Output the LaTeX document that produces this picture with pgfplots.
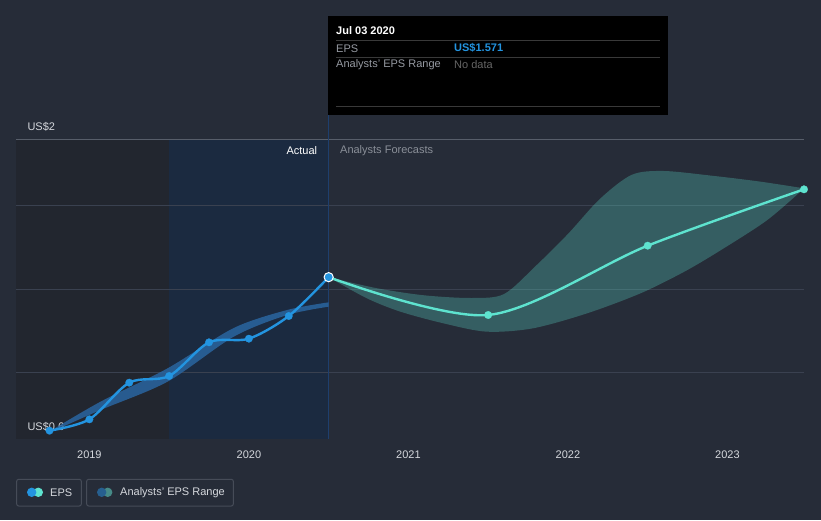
\documentclass[border=0pt]{standalone}
\usepackage{pgfplots}
\pgfplotsset{compat=1.18}
\usepgfplotslibrary{fillbetween}
\usepackage{fontspec}
\setmainfont{Liberation Sans}
\definecolor{bg}{HTML}{262C38}
\definecolor{darkreg}{HTML}{22262F}
\definecolor{bluereg}{HTML}{1B2A40}
\definecolor{gridc}{HTML}{3A4150}
\definecolor{axisc}{HTML}{4E5565}
\definecolor{epsblue}{HTML}{2394E0}
\definecolor{fteal}{HTML}{5EE3CF}
\definecolor{pastband}{HTML}{2A65A0}
\definecolor{txt}{HTML}{D5D8DD}
\definecolor{txtgray}{HTML}{8A8F98}
\definecolor{vline}{HTML}{1E3F6E}
\definecolor{legborder}{HTML}{464C58}
\definecolor{legteal}{HTML}{468A87}
\definecolor{legblue}{HTML}{265F8F}
\pgfplotsset{/tikz/fill between/on layer=main}
\begin{document}
\begin{tikzpicture}[x=1pt,y=1pt]
\fill[bg] (0,0) rectangle (821,520);
\begin{axis}[
  at={(16pt,81pt)}, anchor=south west, scale only axis,
  width=788pt, height=300pt,
  xmin=2018.54, xmax=2023.48, ymin=0.6, ymax=2.4,
  clip=false,
  axis x line*=bottom, axis y line*=left,
  y axis line style={draw=none},
  x axis line style={axisc, line width=1pt},
  xtick={2019,2020,2021,2022,2023},
  xticklabels={2019,2020,2021,2022,2023},
  ytick={1,1.5,2,2.4}, yticklabels={},
  ytick style={draw=none},
  xtick style={axisc, line width=0.8pt},
  tick align=outside, major tick length=5pt,
  xticklabel style={font=\fontsize{11}{13}\selectfont, text=txt, yshift=-3pt},
]
\fill[darkreg] (axis cs:2018.54,0.6) rectangle (axis cs:2019.5,2.4);
\fill[bluereg] (axis cs:2019.5,0.6) rectangle (axis cs:2020.5,2.4);
\draw[gridc, line width=0.9pt] (axis cs:2018.54,1) -- (axis cs:2023.48,1);
\draw[gridc, line width=0.9pt] (axis cs:2018.54,1.5) -- (axis cs:2023.48,1.5);
\draw[gridc, line width=0.9pt] (axis cs:2018.54,2) -- (axis cs:2023.48,2);
\draw[gridc!85!white, line width=0.9pt] (axis cs:2018.54,2.4) -- (axis cs:2023.48,2.4);
\draw[vline, line width=1pt] (axis cs:2020.5,0.6) -- (axis cs:2020.5,2.55);

\node[anchor=west, text=txt, font=\fontsize{11}{13}\selectfont] at (axis cs:2018.59,2.472) {US\$2};
\node[anchor=west, text=txt, font=\fontsize{11}{13}\selectfont] at (axis cs:2018.59,0.672) {US\$0.6};
\node[anchor=east, text=white, font=\fontsize{11}{13}\selectfont] at (axis cs:2020.45,2.328) {Actual};
\node[anchor=west, text=txtgray, font=\fontsize{11}{13}\selectfont] at (axis cs:2020.55,2.328) {Analysts Forecasts};

% past analyst range
\addplot[name path=pu, draw=none, smooth, forget plot] coordinates {
 (2018.755,0.648) (2019.07,0.824) (2019.49,1.024) (2019.905,1.266) (2020.24,1.374) (2020.5,1.42)};
\addplot[name path=pl, draw=none, smooth, forget plot] coordinates {
 (2018.755,0.640) (2019.07,0.774) (2019.49,0.944) (2019.905,1.214) (2020.24,1.344) (2020.5,1.394)};
\addplot[pastband, fill opacity=0.85, draw=none] fill between[of=pu and pl];

% forecast range
\addplot[name path=fu, draw=none, smooth, forget plot] coordinates {
 (2020.5,1.571) (2020.8,1.505) (2021.1,1.462) (2021.4,1.446) (2021.6,1.470)
 (2021.8,1.640) (2022.0,1.830) (2022.2,2.040) (2022.4,2.185) (2022.6,2.208)
 (2022.9,2.180) (2023.2,2.145) (2023.48,2.104)};
\addplot[name path=fl, draw=none, smooth, forget plot] coordinates {
 (2020.5,1.571) (2020.74,1.444) (2020.95,1.364) (2021.22,1.294) (2021.49,1.244)
 (2021.78,1.264) (2022.12,1.354) (2022.455,1.474) (2022.73,1.604) (2022.96,1.734)
 (2023.25,1.914) (2023.48,2.104)};
\addplot[fteal, fill opacity=0.28, draw=none] fill between[of=fu and fl];

% EPS actual
\addplot[epsblue, line width=2.4pt, smooth, tension=0.5, mark=*, mark size=3.8pt,
  mark options={fill=epsblue, draw=epsblue, line width=0.2pt}] coordinates {
 (2018.75,0.650) (2019.0,0.718) (2019.25,0.938) (2019.5,0.978)
 (2019.75,1.180) (2020.0,1.202) (2020.25,1.338) (2020.5,1.571)};

% EPS forecast
\addplot[fteal, line width=2.4pt, smooth, tension=0.5, mark=*, mark size=3.8pt,
  mark options={fill=fteal, draw=fteal, line width=0.2pt}] coordinates {
 (2020.5,1.571) (2021.5,1.344) (2022.5,1.760) (2023.48,2.098)};

\addplot[only marks, mark=*, mark size=4.6pt,
  mark options={fill=epsblue, draw=white, line width=1pt}] coordinates {(2020.5,1.571)};
\end{axis}

% tooltip
\fill[black] (328,405) rectangle (668,504);
\draw[gray!45!black, line width=0.8pt] (336,479.7) -- (660,479.7);
\draw[gray!45!black, line width=0.8pt] (336,462.7) -- (660,462.7);
\draw[gray!45!black, line width=0.8pt] (336,413.3) -- (660,413.3);
\node[anchor=west, inner sep=0pt, text=white, font=\fontsize{11}{13}\selectfont\bfseries] at (336,489.3) {Jul 03 2020};
\node[anchor=west, inner sep=0pt, text=txtgray!90!white, font=\fontsize{11}{13}\selectfont] at (336,471.7) {EPS};
\node[anchor=west, inner sep=0pt, text=epsblue, font=\fontsize{11}{13}\selectfont\bfseries] at (454,471.7) {US\$1.571};
\node[anchor=west, inner sep=0pt, text=txtgray!90!white, font=\fontsize{11}{13}\selectfont] at (336,455) {Analysts' EPS Range};
\node[anchor=west, inner sep=0pt, text=gray!80!black, font=\fontsize{11}{13}\selectfont] at (454,455) {No data};

% legend
\draw[legborder, line width=1pt, rounded corners=2pt] (16.7,14) rectangle (81.3,40.7);
\draw[legborder, line width=1pt, rounded corners=2pt] (86.7,14) rectangle (233.3,40.7);
\fill[fteal] (38.3,27.7) circle (4.7);
\fill[epsblue] (31.7,27.7) circle (4.7);
\node[anchor=west, inner sep=0pt, text=txt, font=\fontsize{11}{13}\selectfont] at (50,27.7) {EPS};
\fill[legteal] (107.7,27.7) circle (4.7);
\fill[legblue] (101.7,27.7) circle (4.7);
\node[anchor=west, inner sep=0pt, text=txt, font=\fontsize{11}{13}\selectfont] at (120,27.7) {Analysts' EPS Range};
\end{tikzpicture}
\end{document}
